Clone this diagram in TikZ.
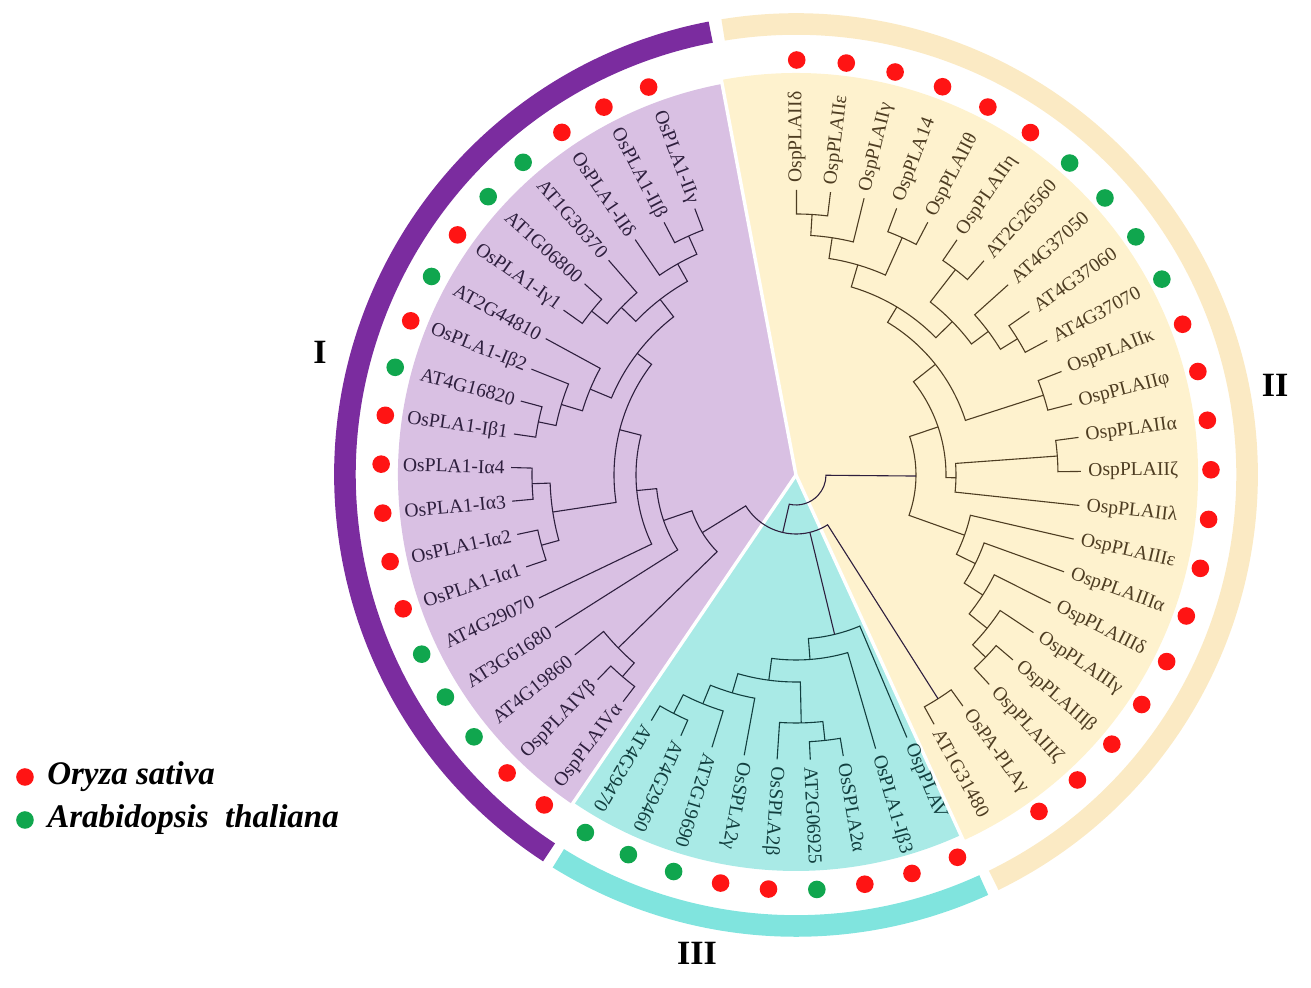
\documentclass[tikz,border=0pt]{standalone}
\usepackage{fontspec}
\setmainfont{Liberation Serif}
\definecolor{purplering}{HTML}{7B2C9F}
\definecolor{purplefill}{HTML}{D9C0E3}
\definecolor{purpleline}{HTML}{2E1F3E}
\definecolor{yellowring}{HTML}{FBEAC4}
\definecolor{yellowfill}{HTML}{FEF2CE}
\definecolor{yellowline}{HTML}{4E3D22}
\definecolor{cyanring}{HTML}{80E4DE}
\definecolor{cyanfill}{HTML}{A9EAE6}
\definecolor{cyanline}{HTML}{123F3F}
\definecolor{dotred}{HTML}{FF1414}
\definecolor{dotgreen}{HTML}{10A64E}
\usetikzlibrary{positioning}
% one clade: node radius, first child angle/radius, second child angle/radius
\newcommand\clade[5]{\draw (#2:#3) -- (#2:#1) arc[start angle=#2,end angle=#4,radius=#1] -- (#4:#5);}
\begin{document}
\begin{tikzpicture}[x=0.5pt,y=0.5pt]
\tikzset{ring/.style={line width=10.8pt,line cap=butt}}
\tikzset{leaflabel/.style={inner sep=0pt,font=\fontsize{9.8}{10}\selectfont}}
\tikzset{spot/.style={circle,inner sep=0pt,minimum size=8.8pt}}
\tikzset{branch/.style={line width=0.55pt}}
\useasboundingbox (-796,-513) rectangle (515,475);
% wedges
\fill[purplefill] (0,0) -- (100.7:398) arc[start angle=100.7,end angle=235.8,radius=398] -- cycle;
\fill[cyanfill] (0,0) -- (235.8:396) arc[start angle=235.8,end angle=294.6,radius=396] -- cycle;
\fill[yellowfill] (0,0) -- (294.6:402) arc[start angle=294.6,end angle=460.7,radius=402] -- cycle;
\foreach \g in {100.7,235.8,294.6}
  \draw[white,line width=1.7pt] (0,0) -- (\g:405);
% rings
\draw[ring,purplering] (100.9:451) arc[start angle=100.9,end angle=236.8,radius=451];
\draw[ring,cyanring] (238.2:451) arc[start angle=238.2,end angle=294.6,radius=451];
\draw[ring,yellowring] (296.0:451) arc[start angle=296.0,end angle=459.3,radius=451];
% group I
\begin{scope}[branch,purpleline]
\clade{262}{110.8}{285}{117.57}{285}
\clade{242}{114.19}{262}{124.34}{285}
\clade{262}{137.88}{285}{144.65}{285}
\clade{242}{131.11}{285}{141.27}{262}
\clade{222}{119.27}{242}{136.19}{242}
\clade{263}{164.96}{285}{171.73}{285}
\clade{245}{158.19}{285}{168.35}{263}
\clade{223}{151.42}{285}{163.27}{245}
\clade{200}{127.73}{222}{157.35}{223}
\clade{264}{178.5}{285}{185.27}{285}
\clade{264}{192.04}{285}{198.81}{285}
\clade{246}{181.89}{264}{195.43}{264}
\clade{182}{142.54}{200}{188.66}{246}
\clade{160}{165.6}{182}{205.58}{285}
\clade{140}{185.59}{160}{212.35}{285}
\clade{266}{225.89}{285}{232.66}{285}
\clade{248}{219.12}{285}{229.28}{266}
\clade{110}{198.97}{140}{224.2}{248}
\end{scope}
% group III
\begin{scope}[branch,cyanline]
\clade{268}{239.5}{285}{246.18}{285}
\clade{247}{242.84}{268}{252.85}{285}
\clade{227}{247.85}{247}{259.53}{285}
\clade{267}{272.88}{285}{279.55}{285}
\clade{248}{266.2}{285}{276.22}{267}
\clade{207}{253.69}{227}{271.21}{248}
\clade{185}{262.45}{207}{286.23}{285}
\clade{164}{274.34}{185}{292.9}{285}
\end{scope}
% group II
\begin{scope}[branch,yellowline]
\clade{261}{89.9}{285}{83.04}{285}
\clade{240}{86.47}{261}{76.18}{285}
\clade{260}{69.32}{285}{62.46}{285}
\clade{219}{81.33}{240}{65.89}{260}
\clade{260}{55.6}{285}{48.74}{285}
\clade{260}{35.02}{285}{28.16}{285}
\clade{240}{41.88}{285}{31.59}{260}
\clade{219}{52.17}{260}{36.74}{240}
\clade{196}{73.61}{219}{44.46}{219}
\clade{260}{21.3}{285}{14.44}{285}
\clade{178}{59.03}{196}{17.87}{260}
\clade{262}{7.58}{285}{0.72}{285}
\clade{160}{4.15}{262}{-6.14}{285}
\clade{263}{-40.44}{285}{-47.3}{285}
\clade{245}{-33.58}{285}{-43.87}{263}
\clade{222}{-26.72}{285}{-38.73}{245}
\clade{200}{-19.86}{285}{-32.73}{222}
\clade{179}{-13.0}{285}{-26.3}{200}
\clade{265}{-54.16}{285}{-61.02}{285}
\clade{150}{38.45}{178}{-1.0}{160}
\clade{120}{18.7}{150}{-19.65}{179}
\end{scope}
% root
\begin{scope}[branch,purpleline]
\clade{59}{211.58}{110}{302.41}{265}
\draw (283.62:59) -- (283.62:164);
\clade{30}{257}{59}{359.5}{120}
\end{scope}
% labels and dots, group I
\foreach \a/\name/\c [count=\i] in {110.8/OsPLA1-IIγ/dotred,117.57/OsPLA1-IIβ/dotred,124.34/OsPLA1-IIδ/dotred,
  131.11/AT1G30370/dotgreen,137.88/AT1G06800/dotgreen,144.65/OsPLA1-Iγ1/dotred,151.42/AT2G44810/dotgreen,
  158.19/OsPLA1-Iβ2/dotred,164.96/AT4G16820/dotgreen,171.73/OsPLA1-Iβ1/dotred,178.5/OsPLA1-Iα4/dotred,
  185.27/OsPLA1-Iα3/dotred,192.04/OsPLA1-Iα2/dotred,198.81/OsPLA1-Iα1/dotred,205.58/AT4G29070/dotgreen,
  212.35/AT3G61680/dotgreen,219.12/AT4G19860/dotgreen,225.89/OspPLAIVβ/dotred,232.66/OspPLAIVα/dotred}{
  \node[leaflabel,purpleline,anchor=east,rotate=\a-180] (pl\i) at (\a:291) {\name};
  \node[spot,fill=\c] (pd\i) at (\a:415) {};
}
% group III
\foreach \a/\name/\c [count=\i] in {239.5/AT4G29470/dotgreen,246.18/AT4G29460/dotgreen,252.85/AT2G19690/dotgreen,
  259.53/OsSPLA2γ/dotred,266.2/OsSPLA2β/dotred,272.88/AT2G06925/dotgreen,279.55/OsSPLA2α/dotred,
  286.23/OsPLA1-Iβ3/dotred,292.9/OspPLAV/dotred}{
  \node[leaflabel,cyanline,anchor=west,rotate=\a] (cl\i) at (\a:292) {\name};
  \node[spot,fill=\c] (cd\i) at (\a:415) {};
}
% group II
\foreach \a/\name/\c [count=\i] in {89.9/OspPLAIIδ/dotred,83.04/OspPLAIIε/dotred,76.18/OspPLAIIγ/dotred,
  69.32/OspPLA14/dotred,62.46/OspPLAIIθ/dotred,55.6/OspPLAIIη/dotred,48.74/AT2G26560/dotgreen,
  41.88/AT4G37050/dotgreen,35.02/AT4G37060/dotgreen,28.16/AT4G37070/dotgreen,21.3/OspPLAIIκ/dotred,
  14.44/OspPLAIIφ/dotred,7.58/OspPLAIIα/dotred,0.72/OspPLAIIζ/dotred,-6.14/OspPLAIIλ/dotred,
  -13.0/OspPLAIIIε/dotred,-19.86/OspPLAIIIα/dotred,-26.72/OspPLAIIIδ/dotred,-33.58/OspPLAIIIγ/dotred,
  -40.44/OspPLAIIIβ/dotred,-47.3/OspPLAIIIζ/dotred,-54.16/OsPA-PLAγ/dotred}{
  \node[leaflabel,yellowline,anchor=west,rotate=\a] (yl\i) at (\a:292) {\name};
  \node[spot,fill=\c] (yd\i) at (\a:415) {};
}
\node[leaflabel,yellowline,anchor=west,rotate=-61.02] (yl23) at (-61.02:292) {AT1G31480};
% group names
\node[font=\fontsize{17}{17}\selectfont\bfseries] (gI) at (-476,123) {I};
\node[font=\fontsize{17}{17}\selectfont\bfseries] (gII) at (479,90) {II};
\node[font=\fontsize{17}{17}\selectfont\bfseries] (gIII) at (-99,-478) {III};
% legend
\node[spot,fill=dotred] (keyrice) at (-771,-302) {};
\node[anchor=west,font=\fontsize{16.5}{17}\selectfont\bfseries\itshape,right=3pt of keyrice] (txtrice) {Oryza sativa};
\node[spot,fill=dotgreen] (keyara) at (-771,-345) {};
\node[anchor=west,font=\fontsize{16.5}{17}\selectfont\bfseries\itshape,right=3pt of keyara] (txtara) {Arabidopsis\ \ thaliana};
\end{tikzpicture}
\end{document}
